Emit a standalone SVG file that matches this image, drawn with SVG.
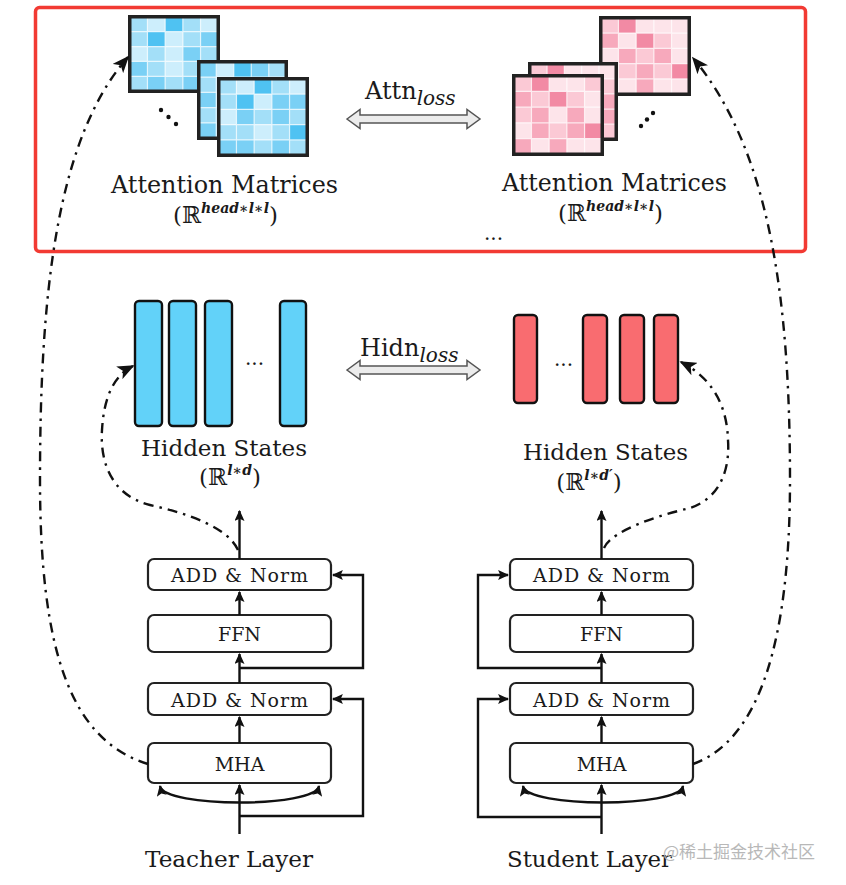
<svg xmlns="http://www.w3.org/2000/svg" width="846" height="885" viewBox="0 0 846 885">
<style>
.t{font-family:"DejaVu Serif","Liberation Serif",serif;fill:#1a1a1a}
.box{fill:#fff;stroke:#222;stroke-width:2.2}
.barb{fill:#62d2f9;stroke:#111;stroke-width:2.4}
.barr{fill:#f96c70;stroke:#111;stroke-width:2.4}
.mb{fill:none;stroke:#222;stroke-width:3.5}
.grid{fill:none;stroke:#fff;stroke-width:1.2;stroke-opacity:0.75}
.b1{fill:#cdeefc}.b2{fill:#a3dff8}.b3{fill:#7ad0f5}.b4{fill:#4fc2f2}
.p1{fill:#fde4ea}.p2{fill:#fbc9d5}.p3{fill:#f7a9bc}.p4{fill:#f28aa4}
.ln{fill:none;stroke:#111;stroke-width:2.4}
.dd{fill:none;stroke:#111;stroke-width:2.4;stroke-dasharray:10 6 2.5 6}
.dbl{fill:#ececec;stroke:#555;stroke-width:1.5}
.dot{fill:#111}
.sup{font-size:14px;font-style:italic;font-weight:bold}
</style>
<defs>
<marker id="a" viewBox="0 0 10 10" refX="9" refY="5" markerWidth="11" markerHeight="10" markerUnits="userSpaceOnUse" orient="auto-start-reverse" preserveAspectRatio="none">
<path d="M0,0 L10,5 L0,10 L2,5 z" fill="#111"/>
</marker>
<marker id="ab" viewBox="0 0 10 10" refX="9" refY="5" markerWidth="17" markerHeight="14" markerUnits="userSpaceOnUse" orient="auto" preserveAspectRatio="none">
<path d="M0,0 L10,5 L0,10 L2.5,5 z" fill="#111"/>
</marker>
<path id="gl" class="grid" vector-effect="non-scaling-stroke" d="M1 0V5M2 0V5M3 0V5M4 0V5M0 1H5M0 2H5M0 3H5M0 4H5"/>
</defs>

<rect id="red-box" x="35.5" y="7.5" width="770" height="244" rx="4" fill="none" stroke="#f23a33" stroke-width="3.5"/>

<g id="attn-teacher">
  <g transform="translate(129.75,16.75) scale(17.7,14.9)">
    <rect width="5" height="5" class="b2"/>
    <path class="b1" d="M1 0h1v1h-1zM4 0h1v1h-1zM2 1h1v1h-1zM0 2h1v1h-1zM2 2h1v1h-1zM2 3h1v1h-1z"/>
    <path class="b3" d="M4 1h1v1h-1zM3 2h1v1h-1zM0 3h1v1h-1zM4 3h1v1h-1zM1 4h1v1h-1zM3 4h1v1h-1z"/>
    <path class="b4" d="M2 0h1v1h-1zM1 1h1v1h-1z"/>
    <use href="#gl"/>
  </g>
  <rect class="mb" x="129.75" y="16.75" width="88.5" height="74.5"/>
  <g transform="translate(198.75,61.75) scale(17.5,15.3)">
    <rect width="5" height="5" class="b2"/>
    <path class="b1" d="M1 0h1v1h-1zM2 1h1v1h-1zM4 1h1v1h-1zM1 2h1v1h-1zM2 3h1v1h-1zM3 4h1v1h-1z"/>
    <path class="b3" d="M0 0h1v1h-1zM3 0h1v1h-1zM3 1h1v1h-1zM0 2h1v1h-1zM4 2h1v1h-1zM1 3h1v1h-1zM3 3h1v1h-1zM0 4h1v1h-1zM4 4h1v1h-1z"/>
    <path class="b4" d="M2 0h1v1h-1z"/>
    <use href="#gl"/>
  </g>
  <rect class="mb" x="198.75" y="61.75" width="87.5" height="76.5"/>
  <g transform="translate(218.75,78.75) scale(17.7,15.3)">
    <rect width="5" height="5" class="b2"/>
    <path class="b1" d="M1 0h1v1h-1zM4 0h1v1h-1zM2 1h1v1h-1zM0 2h1v1h-1zM2 3h1v1h-1z"/>
    <path class="b3" d="M3 1h1v1h-1zM4 1h1v1h-1zM1 2h1v1h-1zM3 2h1v1h-1zM0 4h1v1h-1zM1 4h1v1h-1zM3 4h1v1h-1z"/>
    <path class="b4" d="M2 0h1v1h-1zM1 1h1v1h-1zM4 3h1v1h-1z"/>
    <use href="#gl"/>
  </g>
  <rect class="mb" x="218.75" y="78.75" width="88.5" height="76.5"/>
  <circle class="dot" cx="161" cy="110" r="2.2"/>
  <circle class="dot" cx="168.5" cy="117" r="2.2"/>
  <circle class="dot" cx="176" cy="124" r="2.2"/>
  <text class="t" x="111" y="193" font-size="24" textLength="227" lengthAdjust="spacingAndGlyphs">Attention Matrices</text>
  <text class="t" x="225.5" y="223" font-size="23" text-anchor="middle">(ℝ<tspan class="sup" dy="-10">head∗l∗l</tspan><tspan dy="10">)</tspan></text>
</g>

<g id="attn-student">
  <g transform="translate(600.75,17.75) scale(17.7,15.3)">
    <rect width="5" height="5" class="p2"/>
    <path class="p1" d="M2 0h1v1h-1zM3 0h1v1h-1zM4 0h1v1h-1zM1 1h1v1h-1zM4 1h1v1h-1zM0 2h1v1h-1zM4 2h1v1h-1zM0 4h1v1h-1zM1 4h1v1h-1zM3 4h1v1h-1zM4 4h1v1h-1z"/>
    <path class="p3" d="M0 1h1v1h-1zM1 2h1v1h-1zM3 2h1v1h-1zM2 3h1v1h-1zM2 4h1v1h-1z"/>
    <path class="p4" d="M1 0h1v1h-1zM2 1h1v1h-1zM4 3h1v1h-1z"/>
    <use href="#gl"/>
  </g>
  <rect class="mb" x="600.75" y="17.75" width="88.5" height="76.5"/>
  <g transform="translate(529.75,63.75) scale(17.3,15.1)">
    <rect width="5" height="5" class="p2"/>
    <path class="p1" d="M2 0h1v1h-1zM3 0h1v1h-1zM4 0h1v1h-1zM0 1h1v1h-1zM3 1h1v1h-1zM1 2h1v1h-1zM2 2h1v1h-1zM0 3h1v1h-1zM1 4h1v1h-1zM2 4h1v1h-1z"/>
    <path class="p3" d="M1 1h1v1h-1zM0 2h1v1h-1zM4 2h1v1h-1zM2 3h1v1h-1zM4 3h1v1h-1zM3 4h1v1h-1z"/>
    <path class="p4" d="M1 0h1v1h-1z"/>
    <use href="#gl"/>
  </g>
  <rect class="mb" x="529.75" y="63.75" width="86.5" height="75.5"/>
  <g transform="translate(513.75,75.75) scale(17.7,15.7)">
    <rect width="5" height="5" class="p2"/>
    <path class="p1" d="M2 0h1v1h-1zM3 0h1v1h-1zM4 1h1v1h-1zM2 2h1v1h-1zM4 2h1v1h-1zM0 3h1v1h-1zM1 4h1v1h-1zM3 4h1v1h-1zM4 4h1v1h-1z"/>
    <path class="p3" d="M0 1h1v1h-1zM1 2h1v1h-1zM3 2h1v1h-1zM1 3h1v1h-1zM3 3h1v1h-1zM0 4h1v1h-1zM2 4h1v1h-1z"/>
    <path class="p4" d="M1 0h1v1h-1zM2 1h1v1h-1zM4 3h1v1h-1z"/>
    <use href="#gl"/>
  </g>
  <rect class="mb" x="513.75" y="75.75" width="88.5" height="78.5"/>
  <circle class="dot" cx="641" cy="126" r="2.2"/>
  <circle class="dot" cx="647" cy="119.5" r="2.2"/>
  <circle class="dot" cx="653" cy="113" r="2.2"/>
  <text class="t" x="502" y="191" font-size="24" textLength="225" lengthAdjust="spacingAndGlyphs">Attention Matrices</text>
  <text class="t" x="610.5" y="221" font-size="23" text-anchor="middle">(ℝ<tspan class="sup" dy="-10">head∗l∗l</tspan><tspan dy="10">)</tspan></text>
  <text class="t" x="484" y="240" font-size="20">...</text>
</g>

<g id="attn-loss">
  <text class="t" x="365" y="99" font-size="24">Attn<tspan font-style="italic" font-size="20" dy="6">loss</tspan></text>
  <polygon class="dbl" points="347,119 360,109.5 360,115 467,115 467,109.5 480,119 467,128.5 467,123 360,123 360,128.5"/>
</g>

<g id="hidden-teacher">
  <rect class="barb" x="135" y="301" width="27" height="125" rx="4"/>
  <rect class="barb" x="169" y="301" width="27" height="125" rx="4"/>
  <rect class="barb" x="205" y="301" width="27" height="125" rx="4"/>
  <rect class="barb" x="280" y="301" width="26" height="125" rx="4"/>
  <text class="t" x="245" y="365" font-size="20">...</text>
  <text class="t" x="141" y="456" font-size="23" textLength="166" lengthAdjust="spacingAndGlyphs">Hidden States</text>
  <text class="t" x="230" y="485" font-size="23" text-anchor="middle">(ℝ<tspan class="sup" dy="-10">l∗d</tspan><tspan dy="10">)</tspan></text>
</g>

<g id="hidden-student">
  <rect class="barr" x="514" y="315" width="23" height="88" rx="4"/>
  <rect class="barr" x="583" y="315" width="24" height="88" rx="4"/>
  <rect class="barr" x="620" y="315" width="24" height="88" rx="4"/>
  <rect class="barr" x="654" y="315" width="24" height="88" rx="4"/>
  <text class="t" x="554" y="366" font-size="20">...</text>
  <text class="t" x="523" y="460" font-size="23" textLength="165" lengthAdjust="spacingAndGlyphs">Hidden States</text>
  <text class="t" x="589" y="490" font-size="23" text-anchor="middle">(ℝ<tspan class="sup" dy="-10">l∗d′</tspan><tspan dy="10">)</tspan></text>
</g>

<g id="hidn-loss">
  <text class="t" x="360" y="356" font-size="24">Hidn<tspan font-style="italic" font-size="20" dy="6">loss</tspan></text>
  <polygon class="dbl" points="347,370 360,360.5 360,366 467,366 467,360.5 480,370 467,379.5 467,374 360,374 360,379.5"/>
</g>

<g id="teacher-addnorm2"><rect class="box" x="148" y="559" width="183" height="31" rx="6"/><text class="t" x="239.5" y="582" font-size="19" text-anchor="middle" textLength="137">ADD &amp; Norm</text></g>
<g id="teacher-ffn"><rect class="box" x="148" y="615" width="183" height="37" rx="6"/><text class="t" x="239.5" y="641" font-size="19" text-anchor="middle">FFN</text></g>
<g id="teacher-addnorm1"><rect class="box" x="148" y="683" width="183" height="32" rx="6"/><text class="t" x="239.5" y="707" font-size="19" text-anchor="middle" textLength="137">ADD &amp; Norm</text></g>
<g id="teacher-mha"><rect class="box" x="148" y="743" width="183" height="40" rx="6"/><text class="t" x="239.5" y="771" font-size="19" text-anchor="middle">MHA</text></g>
<g id="teacher-label"><text class="t" x="145" y="867" font-size="23" textLength="168" lengthAdjust="spacingAndGlyphs">Teacher Layer</text></g>

<g id="student-addnorm2"><rect class="box" x="510" y="559" width="183" height="31" rx="6"/><text class="t" x="601.5" y="582" font-size="19" text-anchor="middle" textLength="137">ADD &amp; Norm</text></g>
<g id="student-ffn"><rect class="box" x="510" y="615" width="183" height="37" rx="6"/><text class="t" x="601.5" y="641" font-size="19" text-anchor="middle">FFN</text></g>
<g id="student-addnorm1"><rect class="box" x="510" y="683" width="183" height="32" rx="6"/><text class="t" x="601.5" y="707" font-size="19" text-anchor="middle" textLength="137">ADD &amp; Norm</text></g>
<g id="student-mha"><rect class="box" x="510" y="743" width="183" height="40" rx="6"/><text class="t" x="601.5" y="771" font-size="19" text-anchor="middle">MHA</text></g>
<g id="student-label"><text class="t" x="507" y="867" font-size="23" textLength="165" lengthAdjust="spacingAndGlyphs">Student Layer</text></g>

<g id="connectors">
  <path class="ln" d="M239.5 834V785" marker-end="url(#a)"/>
  <path class="ln" d="M160 786C164 808 315 808 319 786" marker-start="url(#a)" marker-end="url(#a)"/>
  <path class="ln" d="M239.5 816H363V699H333" marker-end="url(#a)"/>
  <path class="ln" d="M239.5 743V717" marker-end="url(#a)"/>
  <path class="ln" d="M239.5 683V654" marker-end="url(#a)"/>
  <path class="ln" d="M239.5 668H363V575H333" marker-end="url(#a)"/>
  <path class="ln" d="M239.5 615V592" marker-end="url(#a)"/>
  <path class="ln" d="M239.5 559V511" marker-end="url(#a)"/>
  <path class="ln" d="M601.5 834V785" marker-end="url(#a)"/>
  <path class="ln" d="M523 786C527 808 679 808 683 786" marker-start="url(#a)" marker-end="url(#a)"/>
  <path class="ln" d="M601.5 817H478V699H508" marker-end="url(#a)"/>
  <path class="ln" d="M601.5 743V717" marker-end="url(#a)"/>
  <path class="ln" d="M601.5 683V654" marker-end="url(#a)"/>
  <path class="ln" d="M601.5 668H478V575H508" marker-end="url(#a)"/>
  <path class="ln" d="M601.5 615V592" marker-end="url(#a)"/>
  <path class="ln" d="M601.5 559V511" marker-end="url(#a)"/>
  <path class="dd" d="M238 550C228 528 190 514 150 505C110 495 100 460 102 430C104 395 115 375 133 366" marker-end="url(#ab)"/>
  <path class="dd" d="M604 548C612 530 660 515 690 508C720 498 730 470 728 440C727 405 712 378 681 362" marker-end="url(#ab)"/>
  <path class="dd" d="M148 764C70 740 40 650 40 480C40 300 55 140 128 57" marker-end="url(#ab)"/>
  <path class="dd" d="M693 764C760 740 790 640 790 480C790 300 770 150 693 58" marker-end="url(#ab)"/>
</g>

<g id="watermark">
  <text x="663" y="858" font-size="17" fill="#b8b8b8" font-family="'Noto Sans CJK SC','Noto Sans',sans-serif">@稀土掘金技术社区</text>
</g>
</svg>
